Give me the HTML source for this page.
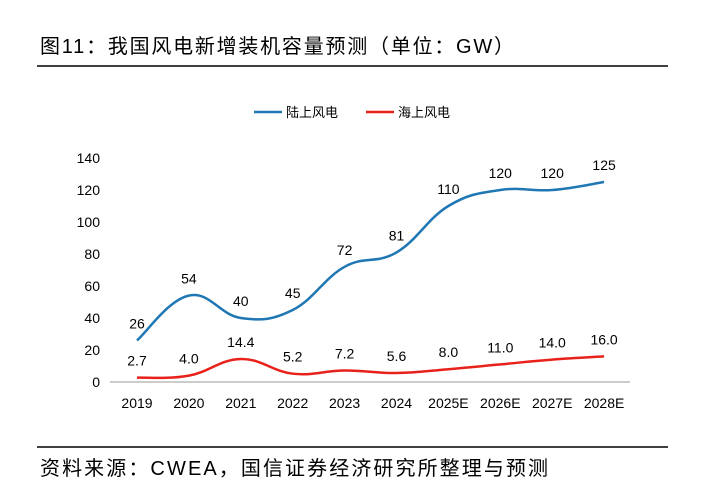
<!DOCTYPE html>
<html><head><meta charset="utf-8"><style>
body{margin:0;background:#fff;width:708px;height:497px;overflow:hidden;font-family:"Liberation Sans","Noto Sans CJK SC",sans-serif;}
</style></head><body>
<svg width="708" height="497" xmlns="http://www.w3.org/2000/svg" font-family="Liberation Sans, Noto Sans CJK SC, sans-serif">
<text x="40" y="53" font-size="20" textLength="474" lengthAdjust="spacing" fill="#000">图11：我国风电新增装机容量预测（单位：GW）</text>
<line x1="37" y1="66" x2="668" y2="66" stroke="#000" stroke-width="1.5"/>
<line x1="37" y1="447" x2="668" y2="447" stroke="#000" stroke-width="1.5"/>
<text x="40" y="475" font-size="20" textLength="508" lengthAdjust="spacing" fill="#000">资料来源：CWEA，国信证券经济研究所整理与预测</text>
<g>
<line x1="254" y1="112" x2="282" y2="112" stroke="#1F77B4" stroke-width="2.5"/>
<text x="286" y="117" font-size="13">陆上风电</text>
<line x1="366" y1="112" x2="394" y2="112" stroke="#E8211B" stroke-width="2.5"/>
<text x="398" y="117" font-size="13">海上风电</text>
</g>
<g id="plot"></g>
</svg>
<script>
const categories=["2019","2020","2021","2022","2023","2024","2025E","2026E","2027E","2028E"];
const onshore=[26,54,40,45,72,81,110,120,120,125];
const offshore=[2.7,4.0,14.4,5.2,7.2,5.6,8.0,11.0,14.0,16.0];
const onshoreLabels=["26","54","40","45","72","81","110","120","120","125"];
const offshoreLabels=["2.7","4.0","14.4","5.2","7.2","5.6","8.0","11.0","14.0","16.0"];
const yTicks=[0,20,40,60,80,100,120,140];
const NS="http://www.w3.org/2000/svg";
const g=document.getElementById('plot');
const x=i=>137+i*51.9;
const y=v=>382-v*1.6;
function el(t,a){const e=document.createElementNS(NS,t);for(const k in a)e.setAttribute(k,a[k]);g.appendChild(e);return e;}
const ax=el('line',{x1:110,y1:382,x2:630,y2:382,stroke:'#999','stroke-width':1});


yTicks.forEach(v=>{const t=el('text',{x:100,y:y(v)+5,'font-size':14,'text-anchor':'end'});t.textContent=v;

});
categories.forEach((c,i)=>{const t=el('text',{x:x(i),y:408,'font-size':14,'text-anchor':'middle'});t.textContent=c;

});
function path(vals){const p=vals.map((v,i)=>[x(i),y(v)]);let d=`M${p[0][0]},${p[0][1]}`;const k=0.2;
for(let i=0;i<p.length-1;i++){const p0=p[i-1]||p[i],p1=p[i],p2=p[i+1],p3=p[i+2]||p2;
d+=` C${p1[0]+(p2[0]-p0[0])*k},${p1[1]+(p2[1]-p0[1])*k} ${p2[0]-(p3[0]-p1[0])*k},${p2[1]-(p3[1]-p1[1])*k} ${p2[0]},${p2[1]}`;}return d;}
const l1=el('path',{d:path(onshore),fill:'none',stroke:'#1F77B4','stroke-width':2.5});


const l2=el('path',{d:path(offshore),fill:'none',stroke:'#E8211B','stroke-width':2.5});


onshore.forEach((v,i)=>{const t=el('text',{x:x(i),y:y(v)-12,'font-size':14,'text-anchor':'middle'});t.textContent=onshoreLabels[i];

});
offshore.forEach((v,i)=>{const t=el('text',{x:x(i),y:y(v)-12,'font-size':14,'text-anchor':'middle'});t.textContent=offshoreLabels[i];

});
</script>
</body></html>
